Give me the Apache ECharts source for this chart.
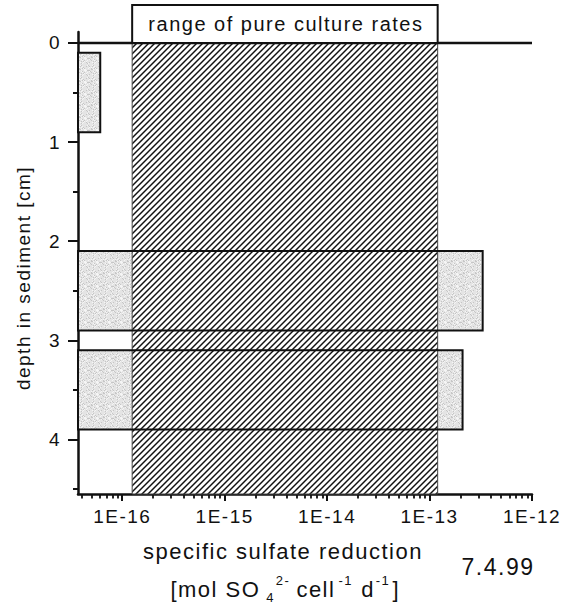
<!DOCTYPE html>
<html><head><meta charset="utf-8">
<script src="https://cdn.jsdelivr.net/npm/echarts@6/dist/echarts.min.js"></script>
<style>
html,body{margin:0;padding:0;background:#fff}
#c{width:572px;height:608px}
#c text{letter-spacing:1.5px}
</style>
</head><body><div id="c"></div>
<script>
// ---- data ----
const depthTicks = [0, 1, 2, 3, 4];
const depthMinorTicks = [0.5, 1.5, 2.5, 3.5, 4.5];
const rateTicks = [1e-16, 1e-15, 1e-14, 1e-13, 1e-12];
const rateTickLabels = ['1E-16', '1E-15', '1E-14', '1E-13', '1E-12'];
const rateMinorTicks = [
  4e-17, 5e-17, 6e-17, 7e-17, 8e-17, 9e-17,
  2e-16, 3e-16, 4e-16, 5e-16, 6e-16, 7e-16, 8e-16, 9e-16,
  2e-15, 3e-15, 4e-15, 5e-15, 6e-15, 7e-15, 8e-15, 9e-15,
  2e-14, 3e-14, 4e-14, 5e-14, 6e-14, 7e-14, 8e-14, 9e-14,
  2e-13, 3e-13, 4e-13, 5e-13, 6e-13, 7e-13, 8e-13, 9e-13
];
const layerTop = [0.1, 2.1, 3.1];          // cm
const layerBottom = [0.9, 2.9, 3.9];       // cm
const layerRate = [6.1e-17, 3.3e-13, 2.1e-13]; // mol SO4 cell-1 d-1
const pureCultureRange = [1.25e-16, 1.2e-13];
const rangeLabel = 'range of pure culture rates';
const xMin = 3.7e-17, xMax = 1.0001e-12;
const yMin = -0.11, yMax = 4.55;
const surfaceDepth = 0;

// ---- patterns (styling only) ----
function hatchPattern() {
  const n = 6;
  const c = document.createElement('canvas'); c.width = n; c.height = n;
  const g = c.getContext('2d');
  g.fillStyle = '#fff'; g.fillRect(0, 0, n, n);
  g.strokeStyle = '#111'; g.lineWidth = 1.45;
  g.beginPath();
  g.moveTo(0, n); g.lineTo(n, 0);
  g.moveTo(-1, 1); g.lineTo(1, -1);
  g.moveTo(n - 1, n + 1); g.lineTo(n + 1, n - 1);
  g.stroke();
  return c;
}
function stipplePattern() {
  const n = 12;
  const c = document.createElement('canvas'); c.width = n; c.height = n;
  const g = c.getContext('2d');
  g.fillStyle = '#e4e4e4'; g.fillRect(0, 0, n, n);
  for (let i = 0; i < n; i++) for (let j = 0; j < n; j++) {
    const v = (i * 73 + j * 151 + i * j * 37) % 17;
    if (v < 3) { g.fillStyle = '#c6c6c6'; g.fillRect(i, j, 1, 1); }
    else if (v > 13) { g.fillStyle = '#f5f5f5'; g.fillRect(i, j, 1, 1); }
  }
  return c;
}
const hatch = { image: hatchPattern(), repeat: 'repeat', imageWidth: 6, imageHeight: 6 };
const stipple = { image: stipplePattern(), repeat: 'repeat', imageWidth: 12, imageHeight: 12 };

const FONT = '"Liberation Sans", Arial, sans-serif';
const INK = '#111';
const layerData = layerRate.map((r, i) => [r, layerTop[i], layerBottom[i]]);

function rateLabel(v) {
  let best = 0, bd = Infinity;
  rateTicks.forEach((t, i) => { const d = Math.abs(Math.log10(v) - Math.log10(t)); if (d < bd) { bd = d; best = i; } });
  return rateTickLabels[best];
}

const chart = echarts.init(document.getElementById('c'), null, { renderer: 'svg' });
chart.setOption({
  animation: false,
  backgroundColor: '#fff',
  grid: { left: 78, right: 40, top: 32, bottom: 114, containLabel: false },
  xAxis: [{
    type: 'log', logBase: 10, min: xMin, max: xMax, position: 'bottom',
    axisLine: { show: true, onZero: false, lineStyle: { color: INK, width: 2.5 } },
    axisTick: { show: true, inside: false, length: 7, customValues: rateTicks, lineStyle: { color: INK, width: 2 } },
    axisLabel: { show: true, customValues: rateTicks, margin: 13, formatter: rateLabel, color: INK, fontSize: 19, fontFamily: FONT },
    splitLine: { show: false }, minorTick: { show: false }
  }, {
    type: 'log', logBase: 10, min: xMin, max: xMax, position: 'bottom',
    axisLine: { show: false, onZero: false },
    axisTick: { show: true, inside: false, length: 4.5, customValues: rateMinorTicks, lineStyle: { color: INK, width: 1.8 } },
    axisLabel: { show: false }, splitLine: { show: false }
  }],
  yAxis: [{
    type: 'value', inverse: true, min: yMin, max: yMax, position: 'left',
    name: 'depth in sediment [cm]', nameLocation: 'middle', nameGap: 45, nameRotate: 90,
    nameTextStyle: { fontSize: 19, color: INK, fontFamily: FONT, padding: [0, 30, 0, 0] },
    axisLine: { show: true, onZero: false, lineStyle: { color: INK, width: 2.5 } },
    axisTick: { show: true, inside: false, length: 10, customValues: depthTicks, lineStyle: { color: INK, width: 2 } },
    axisLabel: { show: true, customValues: depthTicks, margin: 17, color: INK, fontSize: 19, fontFamily: FONT },
    splitLine: { show: false }
  }, {
    type: 'value', inverse: true, min: yMin, max: yMax, position: 'left',
    axisLine: { show: false, onZero: false },
    axisTick: { show: true, inside: false, length: 5, customValues: depthMinorTicks, lineStyle: { color: INK, width: 2 } },
    axisLabel: { show: false }, splitLine: { show: false }
  }],
  series: [{
    type: 'custom', name: 'layer fill', data: layerData, z: 2, silent: true,
    encode: { x: 0, y: [1, 2] },
    renderItem: (p, api) => {
      const a = api.coord([xMin, api.value(1)]);
      const b = api.coord([api.value(0), api.value(2)]);
      return { type: 'rect', shape: { x: a[0], y: a[1], width: b[0] - a[0], height: b[1] - a[1] }, style: { fill: stipple } };
    }
  }, {
    type: 'custom', name: 'pure culture range', data: [pureCultureRange], z: 3, silent: true,
    encode: { x: [0, 1] },
    renderItem: (p, api) => {
      const a = api.coord([api.value(0), surfaceDepth]);
      const b = api.coord([api.value(1), yMax]);
      return { type: 'rect', shape: { x: a[0], y: a[1], width: b[0] - a[0], height: b[1] - a[1] }, style: { fill: hatch, stroke: '#444', lineWidth: 1 } };
    }
  }, {
    type: 'custom', name: 'layer outline', data: layerData, z: 4, silent: true,
    encode: { x: 0, y: [1, 2] },
    renderItem: (p, api) => {
      const a = api.coord([xMin, api.value(1)]);
      const b = api.coord([api.value(0), api.value(2)]);
      return { type: 'rect', shape: { x: a[0], y: a[1], width: b[0] - a[0], height: b[1] - a[1] }, style: { fill: 'none', stroke: INK, lineWidth: 2 } };
    }
  }, {
    type: 'custom', name: 'surface', data: [pureCultureRange], z: 5, silent: true, clip: false,
    encode: { x: [0, 1] },
    renderItem: (p, api) => {
      const s0 = api.coord([xMin, surfaceDepth]);
      const s1 = api.coord([xMax, surfaceDepth]);
      const a = api.coord([api.value(0), surfaceDepth]);
      const b = api.coord([api.value(1), surfaceDepth]);
      return { type: 'group', children: [
        { type: 'line', shape: { x1: s0[0], y1: s0[1], x2: s1[0], y2: s1[1] }, style: { stroke: INK, lineWidth: 2.5 } },
        { type: 'rect', shape: { x: a[0], y: a[1] - 38, width: b[0] - a[0], height: 38 }, style: { fill: '#fff', stroke: INK, lineWidth: 2 } },
        { type: 'text', x: (a[0] + b[0]) / 2 + 1, y: a[1] - 19, style: { text: rangeLabel, fill: INK, font: '20px ' + FONT, align: 'center', verticalAlign: 'middle' } }
      ] };
    }
  }],
  graphic: [
    { type: 'text', style: { text: 'specific sulfate reduction', x: 283, y: 551, fill: INK, font: '22px ' + FONT, align: 'center', verticalAlign: 'middle' } },
    { type: 'text', style: { text: '7.4.99', x: 498, y: 567, fill: INK, font: '23px ' + FONT, align: 'center', verticalAlign: 'middle' } },
    { type: 'text', style: {
        x: 289, y: 589, align: 'center', verticalAlign: 'middle',
        text: '{a7|[mol SO}{sub|4}{sup2|2-}{a4|cell}{sup2|-1}{a1|d}{sup2|-1}{b1|]}',
        rich: {
          a7: { fontSize: 22, fontFamily: FONT, fill: INK, padding: [0, 12, 0, 0], lineHeight: 30 },
          a4: { fontSize: 22, fontFamily: FONT, fill: INK, padding: [0, 7.5, 0, 6], lineHeight: 30 },
          a1: { fontSize: 22, fontFamily: FONT, fill: INK, padding: [0, 3, 0, 6], lineHeight: 30 },
          b1: { fontSize: 22, fontFamily: FONT, fill: INK, padding: [0, 3, 0, 0], lineHeight: 30 },
          sub: { fontSize: 13, fontFamily: FONT, fill: INK, verticalAlign: 'bottom', padding: [0, 3, 0, 0], lineHeight: 30 },
          sup2: { fontSize: 13, fontFamily: FONT, fill: INK, verticalAlign: 'top', padding: [0, 4.5, 0, 0], lineHeight: 30 }
        }
      } }
  ]
});
</script>
</body></html>
